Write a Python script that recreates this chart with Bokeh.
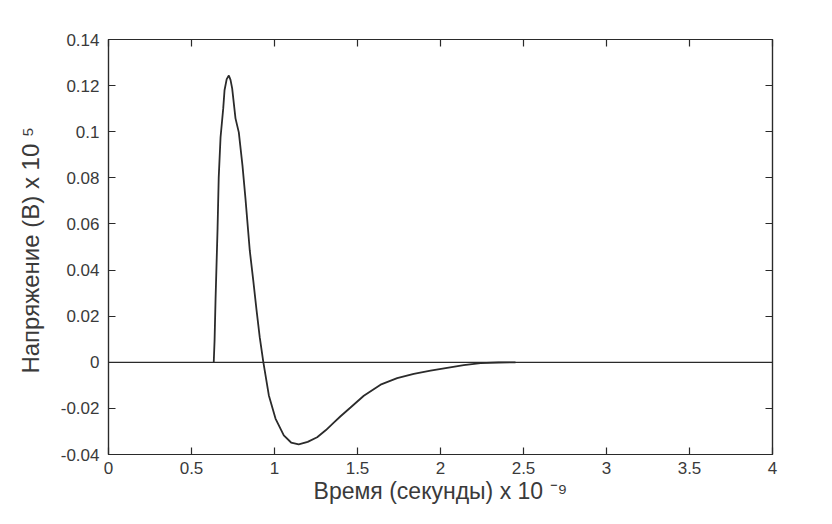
from bokeh.plotting import figure
from bokeh.models import LinearAxis, Span, FixedTicker, Range1d
from bokeh.embed import file_html
from bokeh.resources import INLINE

# Data (time in units of 1e-9 s, voltage in units of 1e5 V)
time_ns = [0.634, 0.639, 0.645, 0.657, 0.664, 0.675, 0.691, 0.699, 0.712, 0.725,
           0.735, 0.745, 0.765, 0.785, 0.807, 0.825, 0.851, 0.872, 0.892, 0.911,
           0.933, 0.966, 1.006, 1.056, 1.100, 1.146, 1.200, 1.257, 1.310, 1.357, 1.398,
           1.458, 1.538, 1.639, 1.739, 1.839, 1.940, 2.040, 2.140, 2.241, 2.350, 2.452]
voltage = [0.0, 0.0095, 0.0277, 0.058, 0.0802, 0.0976, 0.110, 0.118, 0.1228, 0.1244,
           0.1225, 0.1188, 0.1058, 0.0997, 0.0854, 0.0711, 0.0485, 0.0355, 0.0225, 0.0109,
           0.0, -0.0144, -0.0244, -0.0317, -0.0348, -0.0356, -0.0345, -0.0325, -0.0294, -0.0262, -0.0234,
           -0.0196, -0.0145, -0.0097, -0.0069, -0.0050, -0.0036, -0.0024, -0.0012, -0.0004, -0.0001, 0.0]

x_ticks = [0, 0.5, 1, 1.5, 2, 2.5, 3, 3.5, 4]
x_tick_labels = ["0", "0.5", "1", "1.5", "2", "2.5", "3", "3.5", "4"]
y_ticks = [-0.04, -0.02, 0, 0.02, 0.04, 0.06, 0.08, 0.1, 0.12, 0.14]
y_tick_labels = ["-0.04", "-0.02", "0", "0.02", "0.04", "0.06", "0.08", "0.1", "0.12", "0.14"]

x_label = "Время (секунды) x 10 \u207b\u2079"
y_label = "Напряжение (В)  x 10 \u2075"

TEXT = "#3a3a3a"
AXIS = "#2a2a2a"
FONT = "Liberation Sans"

p = figure(width=816, height=508, output_backend="svg", toolbar_location=None,
           x_range=Range1d(0, 4), y_range=Range1d(-0.04, 0.14),
           min_border_left=108, min_border_right=44, min_border_top=39, min_border_bottom=54,
           x_axis_location=None, y_axis_location=None)
p.background_fill_color = "white"
p.border_fill_color = "white"
p.outline_line_color = AXIS
p.outline_line_width = 1.2
p.grid.visible = False

def make_axis(ticks, labels, show_labels):
    ax = LinearAxis(ticker=FixedTicker(ticks=ticks))
    if show_labels:
        ax.major_label_overrides = {t: l for t, l in zip(ticks, labels)}
    else:
        ax.major_label_overrides = {t: "" for t in ticks}
    ax.axis_line_color = AXIS
    ax.axis_line_width = 1.2
    ax.major_tick_line_color = AXIS
    ax.major_tick_line_width = 1.2
    ax.major_tick_in = 7
    ax.major_tick_out = 0
    ax.minor_tick_line_color = None
    ax.major_label_text_font = FONT
    ax.major_label_text_color = TEXT
    ax.major_label_text_font_size = "17px"
    ax.major_label_standoff = 7 if show_labels else 0
    return ax

xb = make_axis(x_ticks, x_tick_labels, True)
xb.axis_label = x_label
xb.axis_label_text_font = FONT
xb.axis_label_text_font_style = "normal"
xb.axis_label_text_font_size = "23px"
xb.axis_label_text_color = TEXT
xb.axis_label_standoff = 1
p.add_layout(xb, "below")

yl = make_axis(y_ticks, y_tick_labels, True)
yl.major_label_standoff = 9
yl.axis_label = y_label
yl.axis_label_text_font = FONT
yl.axis_label_text_font_style = "normal"
yl.axis_label_text_font_size = "24px"
yl.axis_label_text_color = TEXT
yl.axis_label_standoff = 14
p.add_layout(yl, "left")

p.add_layout(make_axis(x_ticks, x_tick_labels, False), "above")
p.add_layout(make_axis(y_ticks, y_tick_labels, False), "right")

p.add_layout(Span(location=0, dimension="width", line_color=AXIS, line_width=1.2))

p.line(time_ns, voltage, line_color="#2b2b2b", line_width=1.8)

open("out.html", "w").write(file_html(p, INLINE))
